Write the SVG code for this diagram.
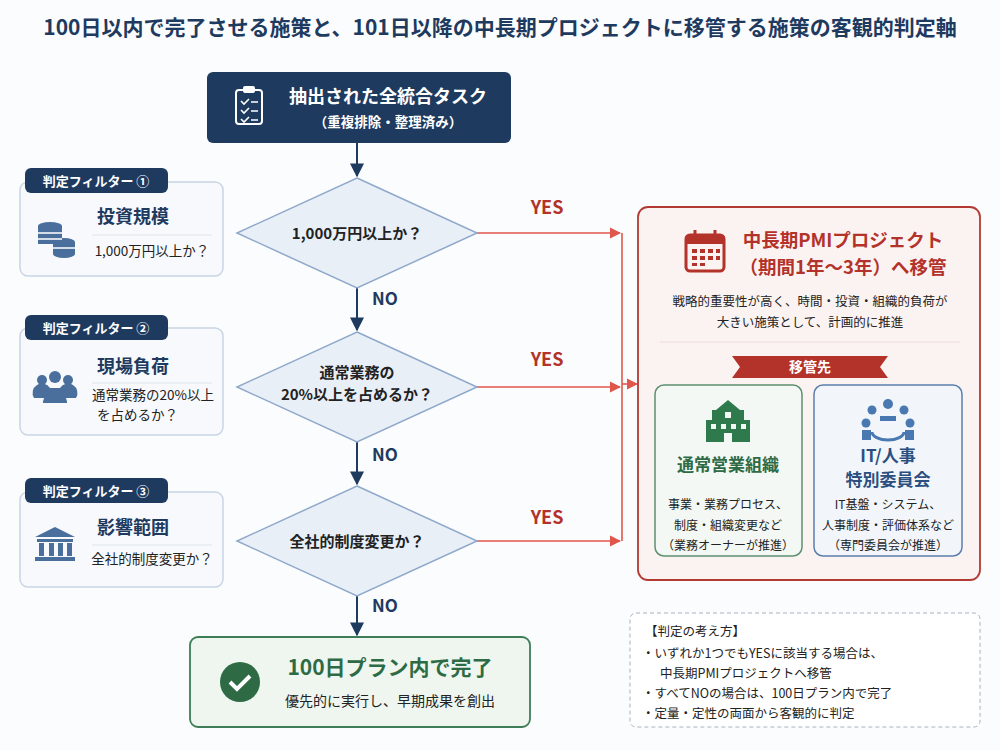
<svg xmlns="http://www.w3.org/2000/svg" width="1000" height="750" viewBox="0 0 1000 750">
<defs>
<style>
text{font-family:"Noto Sans CJK JP","Noto Sans",sans-serif;fill:#222}
.b{font-weight:bold}
.navy{fill:#1f3a5f}
.w{fill:#fff}
.red{fill:#b3322a}
.grn{fill:#2e6b45}
.blu{fill:#2b4f80}
.dia{fill:#e9eff7;stroke:#8ea8cb;stroke-width:1.5}
.card{fill:#f7f9fc;stroke:#c9d5e4;stroke-width:1.5}
.tag{fill:#1e3a5f}
.ic{fill:#4a6f9c}
.nav{stroke:#1e3a5f;stroke-width:2;fill:none}
.yes{stroke:#e0564b;stroke-width:1.6;fill:none}
</style>
<marker id="an" viewBox="0 0 10 10" refX="9" refY="5" markerWidth="7" markerHeight="7" orient="auto"><path d="M0,0L10,5L0,10z" fill="#1e3a5f"/></marker>
<marker id="ar" viewBox="0 0 10 10" refX="9" refY="5" markerWidth="7" markerHeight="7" orient="auto"><path d="M0,0L10,5L0,10z" fill="#e0564b"/></marker>
</defs>
<rect width="1000" height="750" fill="#fbfcfd"/>
<text x="500" y="35" text-anchor="middle" font-size="21" class="b navy">100日以内で完了させる施策と、101日以降の中長期プロジェクトに移管する施策の客観的判定軸</text>

<g id="connectors">
<line x1="357" y1="143" x2="357" y2="176" class="nav" marker-end="url(#an)"/>
<line x1="357" y1="288" x2="357" y2="330" class="nav" marker-end="url(#an)"/>
<line x1="357" y1="442" x2="357" y2="484" class="nav" marker-end="url(#an)"/>
<line x1="357" y1="596" x2="357" y2="635" class="nav" marker-end="url(#an)"/>
<text x="372" y="305" font-size="17" class="b navy">NO</text>
<text x="372" y="461" font-size="17" class="b navy">NO</text>
<text x="372" y="612" font-size="17" class="b navy">NO</text>
<line x1="477" y1="233" x2="620" y2="233" class="yes" marker-end="url(#ar)"/>
<line x1="477" y1="387" x2="620" y2="387" class="yes" marker-end="url(#ar)"/>
<line x1="477" y1="541" x2="620" y2="541" class="yes" marker-end="url(#ar)"/>
<line x1="622" y1="233" x2="622" y2="541" class="yes"/>
<line x1="622" y1="384" x2="637" y2="384" class="yes" marker-end="url(#ar)"/>
<text x="547" y="214" font-size="18" text-anchor="middle" class="b red">YES</text>
<text x="547" y="366" font-size="18" text-anchor="middle" class="b red">YES</text>
<text x="547" y="524" font-size="18" text-anchor="middle" class="b red">YES</text>
</g>

<g id="start">
<rect x="207" y="72" width="304" height="71" rx="6" fill="#1e3a5f"/>
<rect x="236" y="90" width="26" height="34" rx="3" fill="none" stroke="#fff" stroke-width="2"/>
<rect x="243" y="86" width="12" height="7" rx="2" fill="#fff"/>
<path d="M241,101l3,3 5-5M241,110l3,3 5-5M241,119l3,3 5-5" stroke="#fff" stroke-width="1.6" fill="none"/>
<path d="M251,102h7M251,111h7M251,120h7" stroke="#fff" stroke-width="1.6"/>
<text x="388" y="103" font-size="18" text-anchor="middle" class="b w">抽出された全統合タスク</text>
<text x="388" y="127" font-size="13.5" text-anchor="middle" class="b w">（重複排除・整理済み）</text>
</g>

<g id="d1"><path d="M357,178L477,233L357,288L237,233z" class="dia"/><text x="357" y="239" font-size="15" text-anchor="middle" class="b">1,000万円以上か？</text></g>
<g id="d2"><path d="M357,332L477,387L357,442L237,387z" class="dia"/><text x="357" y="378" font-size="15" text-anchor="middle" class="b">通常業務の</text><text x="357" y="400" font-size="15" text-anchor="middle" class="b">20%以上を占めるか？</text></g>
<g id="d3"><path d="M357,486L477,541L357,596L237,541z" class="dia"/><text x="357" y="547" font-size="15" text-anchor="middle" class="b">全社的制度変更か？</text></g>

<g id="end">
<rect x="190" y="637" width="340" height="90" rx="8" fill="#eef6ef" stroke="#3e7d57" stroke-width="1.8"/>
<circle cx="240" cy="682" r="20" fill="#2e6b45"/>
<path d="M230,682l7,7 13-13" stroke="#fff" stroke-width="4" fill="none"/>
<text x="390" y="675" font-size="21" text-anchor="middle" class="b grn">100日プラン内で完了</text>
<text x="390" y="706" font-size="14" text-anchor="middle">優先的に実行し、早期成果を創出</text>
</g>

<g id="f1">
<rect x="20" y="182" width="203" height="94" rx="8" class="card"/>
<rect x="25" y="168" width="143" height="25" rx="6" class="tag"/>
<text x="96" y="186" font-size="13" text-anchor="middle" class="b w">判定フィルター ①</text>
<g class="ic"><ellipse cx="50" cy="226" rx="12" ry="4"/><rect x="38" y="226" width="24" height="18"/><ellipse cx="64" cy="242" rx="11" ry="4"/><rect x="53" y="242" width="22" height="12"/><ellipse cx="64" cy="254" rx="11" ry="4"/></g>
<path d="M38,233h24M38,239h24M53,248h22" stroke="#fff" stroke-width="1.5"/>
<text x="133" y="223" font-size="18" text-anchor="middle" class="b navy">投資規模</text>
<line x1="92" y1="235" x2="212" y2="235" stroke="#dde4ee"/>
<text x="152" y="256" font-size="13.5" text-anchor="middle">1,000万円以上か？</text>
</g>

<g id="f2">
<rect x="20" y="328" width="203" height="107" rx="8" class="card"/>
<rect x="25" y="315" width="143" height="25" rx="6" class="tag"/>
<text x="96" y="333" font-size="13" text-anchor="middle" class="b w">判定フィルター ②</text>
<g class="ic"><circle cx="42" cy="380" r="5"/><circle cx="68" cy="380" r="5"/><circle cx="55" cy="377" r="6"/><path d="M34,398a8,8 0 0 1 16,-10h10a8,8 0 0 1 16,10z"/><path d="M43,403a12,12 0 0 1 24,0z"/></g>
<text x="133" y="373" font-size="18" text-anchor="middle" class="b navy">現場負荷</text>
<line x1="92" y1="383" x2="212" y2="383" stroke="#dde4ee"/>
<text x="92" y="400" font-size="13.5">通常業務の20%以上</text>
<text x="97" y="420" font-size="13.5">を占めるか？</text>
</g>

<g id="f3">
<rect x="20" y="492" width="203" height="95" rx="8" class="card"/>
<rect x="25" y="478" width="143" height="25" rx="6" class="tag"/>
<text x="96" y="496" font-size="13" text-anchor="middle" class="b w">判定フィルター ③</text>
<g class="ic"><path d="M55,527L75,537H35z"/><rect x="37" y="539" width="36" height="3"/><rect x="39" y="543" width="5" height="13"/><rect x="49" y="543" width="5" height="13"/><rect x="58" y="543" width="5" height="13"/><rect x="67" y="543" width="5" height="13"/><rect x="35" y="557" width="40" height="4"/></g>
<text x="133" y="534" font-size="18" text-anchor="middle" class="b navy">影響範囲</text>
<line x1="92" y1="545" x2="212" y2="545" stroke="#dde4ee"/>
<text x="152" y="564" font-size="13.5" text-anchor="middle">全社的制度変更か？</text>
</g>

<g id="panel">
<rect x="638" y="207" width="342" height="373" rx="10" fill="#fbf3f2" stroke="#b33a32" stroke-width="1.8"/>
<rect x="686" y="235" width="38" height="36" rx="4" fill="none" stroke="#b3322a" stroke-width="3"/>
<rect x="686" y="235" width="38" height="9" fill="#b3322a"/>
<path d="M695,230v9M715,230v9" stroke="#b3322a" stroke-width="3"/>
<g fill="#b3322a"><rect x="692" y="249" width="5" height="4"/><rect x="700" y="249" width="5" height="4"/><rect x="708" y="249" width="5" height="4"/><rect x="716" y="249" width="4" height="4"/><rect x="692" y="256" width="5" height="4"/><rect x="700" y="256" width="5" height="4"/><rect x="708" y="256" width="5" height="4"/><rect x="716" y="256" width="4" height="4"/><rect x="692" y="263" width="5" height="3"/><rect x="700" y="263" width="5" height="3"/></g>
<text x="843" y="247" font-size="18.5" text-anchor="middle" class="b red">中長期PMIプロジェクト</text>
<text x="843" y="274" font-size="18.5" text-anchor="middle" class="b red">（期間1年～3年）へ移管</text>
<text x="810" y="306" font-size="12.5" text-anchor="middle">戦略的重要性が高く、時間・投資・組織的負荷が</text>
<text x="810" y="327" font-size="12.5" text-anchor="middle">大きい施策として、計画的に推進</text>
<line x1="660" y1="342" x2="960" y2="342" stroke="#eadcda"/>
<path d="M732,356H888L880,367L888,378H732L740,367z" fill="#b3322a"/>
<text x="810" y="372" font-size="14" text-anchor="middle" class="b w">移管先</text>
</g>

<g id="org">
<rect x="655" y="385" width="147" height="171" rx="9" fill="#f3f8f4" stroke="#5e8f70" stroke-width="1.5"/>
<g fill="#2e7a4d"><rect x="712" y="410" width="32" height="32"/><rect x="706" y="420" width="44" height="22"/><path d="M716,410L728,400L740,410z"/></g>
<g fill="#f3f8f4"><rect x="711" y="424" width="5" height="5"/><rect x="721" y="424" width="5" height="5"/><rect x="731" y="424" width="5" height="5"/><rect x="741" y="424" width="5" height="5"/><rect x="724" y="433" width="8" height="9"/><rect x="725" y="412" width="6" height="6"/></g>
<text x="728" y="471" font-size="17" text-anchor="middle" class="b grn">通常営業組織</text>
<text x="728" y="509" font-size="12" text-anchor="middle">事業・業務プロセス、</text>
<text x="728" y="530" font-size="12" text-anchor="middle">制度・組織変更など</text>
<text x="728" y="550" font-size="12" text-anchor="middle">（業務オーナーが推進）</text>
</g>

<g id="it">
<rect x="814" y="385" width="148" height="171" rx="9" fill="#f2f6fb" stroke="#5b7fae" stroke-width="1.5"/>
<g fill="#4a78b0"><circle cx="888" cy="404" r="5"/><circle cx="872" cy="410" r="4.5"/><circle cx="904" cy="410" r="4.5"/><circle cx="866" cy="423" r="4.5"/><circle cx="910" cy="423" r="4.5"/><path d="M880,416h16v5h-16z"/><path d="M862,430h9v10h-9zM905,430h9v10h-9z"/></g>
<path d="M872,432a16,8 0 0 0 32,0" stroke="#4a78b0" stroke-width="3" fill="none"/>
<text x="888" y="462" font-size="17" text-anchor="middle" class="b blu">IT/人事</text>
<text x="888" y="486" font-size="17" text-anchor="middle" class="b blu">特別委員会</text>
<text x="888" y="509" font-size="12" text-anchor="middle">IT基盤・システム、</text>
<text x="888" y="530" font-size="12" text-anchor="middle">人事制度・評価体系など</text>
<text x="888" y="550" font-size="12" text-anchor="middle">（専門委員会が推進）</text>
</g>

<g id="notes">
<rect x="630" y="613" width="350" height="114" rx="6" fill="#fff" stroke="#aab2bd" stroke-dasharray="4,3"/>
<text x="645" y="636" font-size="12.5">【判定の考え方】</text>
<text x="642" y="658" font-size="12.5">・いずれか1つでもYESに該当する場合は、</text>
<text x="660" y="678" font-size="12.5">中長期PMIプロジェクトへ移管</text>
<text x="642" y="698" font-size="12.5">・すべてNOの場合は、100日プラン内で完了</text>
<text x="642" y="718" font-size="12.5">・定量・定性の両面から客観的に判定</text>
</g>
</svg>
